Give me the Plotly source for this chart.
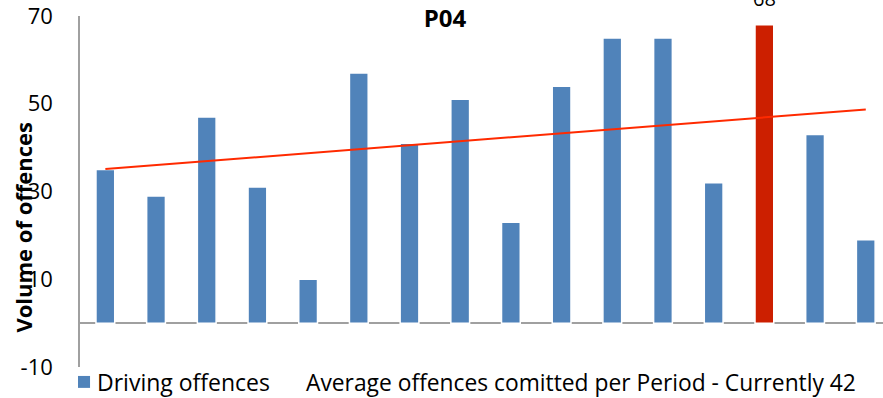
import plotly.graph_objects as go

periods = list(range(16))
offences = [35, 29, 47, 31, 10, 57, 41, 51, 23, 54, 65, 65, 32, 68, 43, 19]
highlight_index = 13
trend_x = [0, 15]
trend_y = [35.1, 48.7]
y_ticks = [-10, 10, 30, 50, 70]
y_tick_text = ["-10", "10", "30", "50", "70"]
title_text = "P04"
y_title = "Volume of offences"
legend_bar = "Driving offences"
legend_avg = "Average offences comitted per Period - Currently 42"

BLUE = "#5083BA"
RED = "#CC1F00"
FONT = "Open Sans"

colors = [RED if i == highlight_index else BLUE for i in periods]

fig = go.Figure()
fig.add_trace(go.Bar(
    x=periods, y=offences, width=0.37,
    marker=dict(color=colors, line=dict(color="white", width=1.5)),
    showlegend=False, hoverinfo="y",
))
fig.add_trace(go.Scatter(
    x=trend_x, y=trend_y, mode="lines",
    line=dict(color="#FF2A00", width=2),
    showlegend=False, hoverinfo="skip",
))

fig.add_annotation(
    x=highlight_index, y=offences[highlight_index], text=str(offences[highlight_index]),
    showarrow=False, yanchor="bottom", yshift=11,
    font=dict(family=FONT, size=20, color="black"),
)
# y-axis title
fig.add_annotation(
    xref="paper", yref="paper", x=-0.071, y=0.40, text="<b>%s</b>" % y_title,
    textangle=-90, showarrow=False, xanchor="center", yanchor="middle",
    font=dict(family=FONT, size=22, color="black"),
)
# legend
fig.add_shape(type="rect", xref="paper", yref="paper",
              x0=-0.0025, x1=0.0125, y0=-0.0595, y1=-0.0255,
              fillcolor=BLUE, line=dict(width=0))
fig.add_annotation(xref="paper", yref="paper", x=0.019, y=-0.0435, text=legend_bar,
                   showarrow=False, xanchor="left", yanchor="middle",
                   font=dict(family=FONT, size=23, color="black"))
fig.add_annotation(xref="paper", yref="paper", x=0.279, y=-0.0435, text=legend_avg,
                   showarrow=False, xanchor="left", yanchor="middle",
                   font=dict(family=FONT, size=22.8, color="black"))

fig.update_layout(
    width=883, height=398,
    margin=dict(l=80, r=0, t=14, b=31),
    paper_bgcolor="white", plot_bgcolor="white",
    title=dict(text="<b>%s</b>" % title_text, xref="container", yref="container",
               x=445 / 883, y=1 - 19 / 398, xanchor="center", yanchor="middle",
               font=dict(family=FONT, size=24, color="black")),
    xaxis=dict(range=[-0.5, 15.34], showticklabels=False, showgrid=False,
               zeroline=False, showline=False, ticks=""),
    yaxis=dict(range=[-10, 70], tickvals=y_ticks, ticktext=y_tick_text, showgrid=False,
               zeroline=True, zerolinecolor="#A0A0A0", zerolinewidth=1.5,
               showline=True, linecolor="#A0A0A0", linewidth=1.5,
               ticks="", ticklabelstandoff=21, ticklabeloverflow="allow",
               tickfont=dict(family=FONT, size=22, color="black")),
    showlegend=False,
)

fig.write_html("out.html", config={"displayModeBar": False},
               post_script="document.body.style.margin='0px';document.body.style.overflow='hidden';")
